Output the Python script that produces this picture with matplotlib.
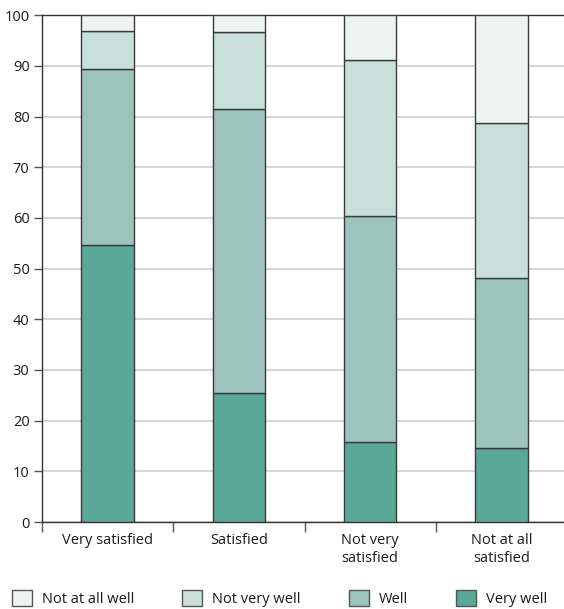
import numpy as np
import matplotlib
matplotlib.use("Agg")
import matplotlib.pyplot as plt
from matplotlib.patches import Patch
from matplotlib.ticker import FixedLocator

plt.rcParams['font.family'] = ['Open Sans', 'DejaVu Sans']

# ------------------------------- data --------------------------------
categories = ["Very satisfied", "Satisfied", "Not very\nsatisfied", "Not at all\nsatisfied"]
# stacked shares (%) from bottom to top
very_well = [54.6, 25.5, 15.7, 14.7]
well = [34.9, 56.1, 44.7, 33.5]
not_very_well = [7.4, 15.1, 30.8, 30.6]
not_at_all_well = [3.1, 3.3, 8.8, 21.2]
series_names = ["Very well", "Well", "Not very well", "Not at all well"]
series_colors = ["#5aa898", "#9dc4bb", "#c9dfda", "#eef3f1"]
y_ticks = [0, 10, 20, 30, 40, 50, 60, 70, 80, 90, 100]

W, H = 564, 609
fig = plt.figure(figsize=(W / 100, H / 100), dpi=100)
ax = fig.add_axes([42 / W, 1 - 522 / H, (567 - 42) / W, (522 - 15.3) / H])

x = np.arange(len(categories))
bottom = np.zeros(len(categories))
for vals, col in zip([very_well, well, not_very_well, not_at_all_well], series_colors):
    ax.bar(x, vals, width=0.4, bottom=bottom, color=col, edgecolor="#3a3a3a",
           linewidth=1.0, zorder=3)
    bottom += np.array(vals)

ax.set_xlim(-0.5, len(categories) - 0.5)
ax.set_ylim(0, 100)
ax.set_yticks(y_ticks)
ax.yaxis.grid(True, color="#d2d2d2", linewidth=1.3, zorder=0)
ax.set_axisbelow(True)

ax.set_xticks(x)
ax.set_xticklabels(categories, fontsize=10.5, color="#1a1a1a", linespacing=1.25)
ax.tick_params(axis="x", which="major", length=0, pad=8)
ax.xaxis.set_minor_locator(FixedLocator(np.arange(-0.5, len(categories) - 0.5, 1.0)))
ax.tick_params(axis="x", which="minor", length=7, width=1, color="#555555")
ax.tick_params(axis="y", length=6, width=1, color="#555555", labelsize=10.5,
               labelcolor="#1a1a1a", pad=3)

for side in ["left", "bottom", "top"]:
    ax.spines[side].set_color("#333333")
    ax.spines[side].set_linewidth(1.0)
ax.spines["right"].set_visible(False)

handles = [Patch(facecolor=c, edgecolor="#555555", linewidth=1.0, label=n)
           for n, c in zip(series_names[::-1], series_colors[::-1])]
fs = 10.5
px = fs * 100 / 72
fig.legend(handles=handles, loc="lower left", bbox_to_anchor=(12 / W, 2 / H),
           ncol=4, frameon=False, fontsize=fs, borderpad=0, borderaxespad=0,
           handlelength=20 / px, handleheight=20 / px, handletextpad=10 / px,
           columnspacing=48 / px, labelcolor="#1a1a1a")

fig.savefig("out.png", dpi=100)
